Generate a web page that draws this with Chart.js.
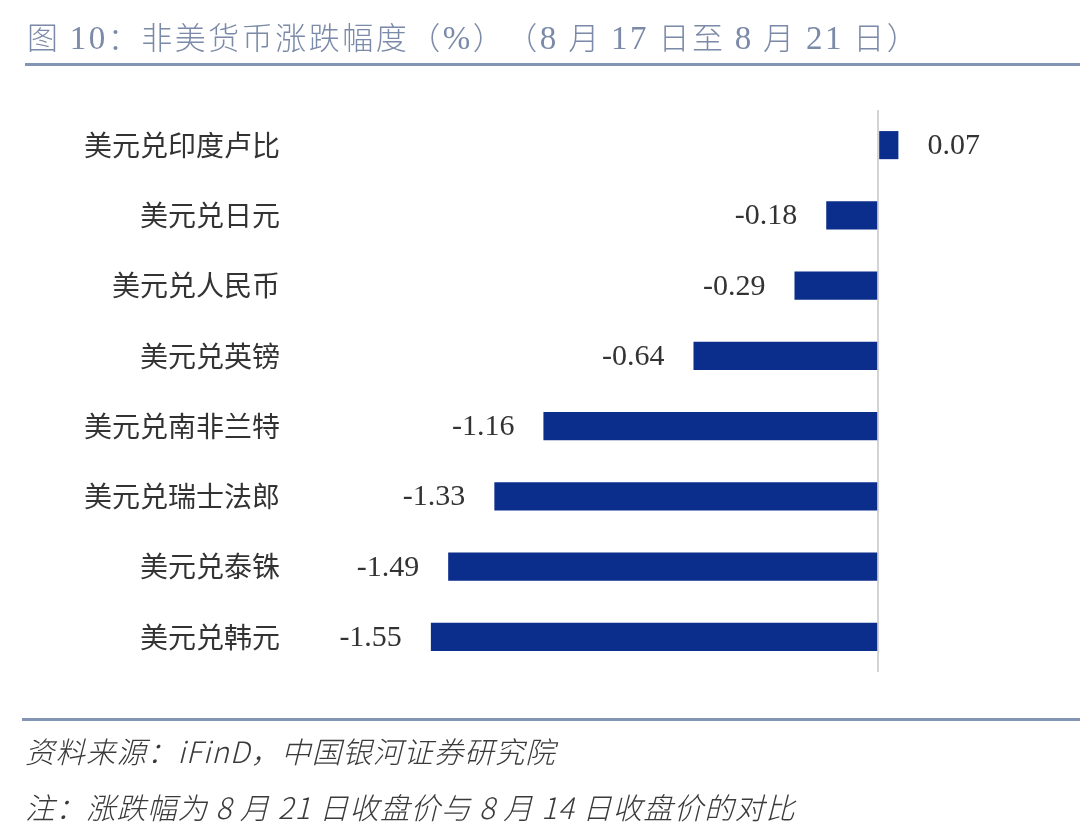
<!DOCTYPE html>
<html>
<head>
<meta charset="utf-8">
<script src="https://cdn.jsdelivr.net/npm/chart.js@4.4.1/dist/chart.umd.min.js"></script>
<style>
  html, body { margin:0; padding:0; background:#ffffff; }
  #wrap { position:relative; width:1080px; height:840px; overflow:hidden; background:#fff; }
  #chart { position:absolute; left:0; top:0; }
  .title { position:absolute; left:27px; top:13px; font-family:"Noto Sans CJK SC",sans-serif; font-size:31px; line-height:46px; color:#7b8aa8; white-space:nowrap; font-weight:300; letter-spacing:2.5px; text-spacing-trim: space-all; }
  .title .d { font-family:"Liberation Serif",serif; font-size:33px; font-weight:400; }
  .rule { position:absolute; left:25px; right:0; height:3px; background:#8494b4; }
  .foot { position:absolute; left:25px; font-family:"Noto Sans CJK SC",sans-serif; font-style:italic; font-size:29.5px; line-height:40px; color:#3a3a3a; white-space:nowrap; font-weight:300; letter-spacing:1px; text-spacing-trim: space-all; }
</style>
</head>
<body>
<div id="wrap">
  <canvas id="chart" width="1080" height="840"></canvas>
  <div class="title">图 <span class="d">10</span>：非美货币涨跌幅度（<span class="d">%</span>）（<span class="d">8</span> 月 <span class="d">17</span> 日至 <span class="d">8</span> 月 <span class="d">21</span> 日）</div>
  <div class="rule" style="top:63px;"></div>
  <div class="rule" style="top:718px;left:22px;"></div>
  <div class="foot" style="top:730px;">资料来源：iFinD，中国银河证券研究院</div>
  <div class="foot" style="top:786px;">注：涨跌幅为 8 月 21 日收盘价与 8 月 14 日收盘价的对比</div>
</div>
<script>
const categories = ['美元兑印度卢比','美元兑日元','美元兑人民币','美元兑英镑','美元兑南非兰特','美元兑瑞士法郎','美元兑泰铢','美元兑韩元'];
const changes = [0.07, -0.18, -0.29, -0.64, -1.16, -1.33, -1.49, -1.55];

const valueLabels = {
  id: 'valueLabels',
  afterDatasetsDraw(chart) {
    const ctx = chart.ctx;
    const meta = chart.getDatasetMeta(0);
    ctx.save();
    ctx.font = '30px "Liberation Serif", serif';
    ctx.fillStyle = '#333333';
    ctx.textBaseline = 'middle';
    meta.data.forEach((bar, i) => {
      const v = changes[i];
      const txt = v.toFixed(2);
      if (v < 0) { ctx.textAlign = 'right'; ctx.fillText(txt, bar.x - 29, bar.y + 1); }
      else { ctx.textAlign = 'left'; ctx.fillText(txt, bar.x + 29, bar.y + 1); }
    });
    ctx.restore();
  }
};

new Chart(document.getElementById('chart'), {
  type: 'bar',
  data: {
    labels: categories,
    datasets: [{ data: changes, backgroundColor: '#0b2d8c', borderWidth: 0, barPercentage: 0.4, categoryPercentage: 1.0 }]
  },
  options: {
    indexAxis: 'y',
    responsive: false,
    animation: false,
    devicePixelRatio: 1,
    layout: { padding: { top: 110, bottom: 168, left: 0, right: 20 } },
    plugins: { legend: { display: false }, tooltip: { enabled: false } },
    scales: {
      x: {
        min: -2, max: 0.63,
        ticks: { display: false, stepSize: 0.5 },
        border: { display: false },
        grid: { drawTicks: false, lineWidth: 2, color: (c) => (c.tick && c.tick.value === 0) ? '#d4d4d4' : 'rgba(0,0,0,0)' },
        afterFit(scale) { scale.height = 0; }
      },
      y: {
        grid: { display: false, drawTicks: false },
        border: { display: false },
        ticks: { padding: 21, color: '#333333', font: { family: '"Noto Sans CJK SC", sans-serif', size: 28 } },
        afterFit(scale) { scale.width = 301; }
      }
    }
  },
  plugins: [valueLabels]
});
</script>
</body>
</html>
